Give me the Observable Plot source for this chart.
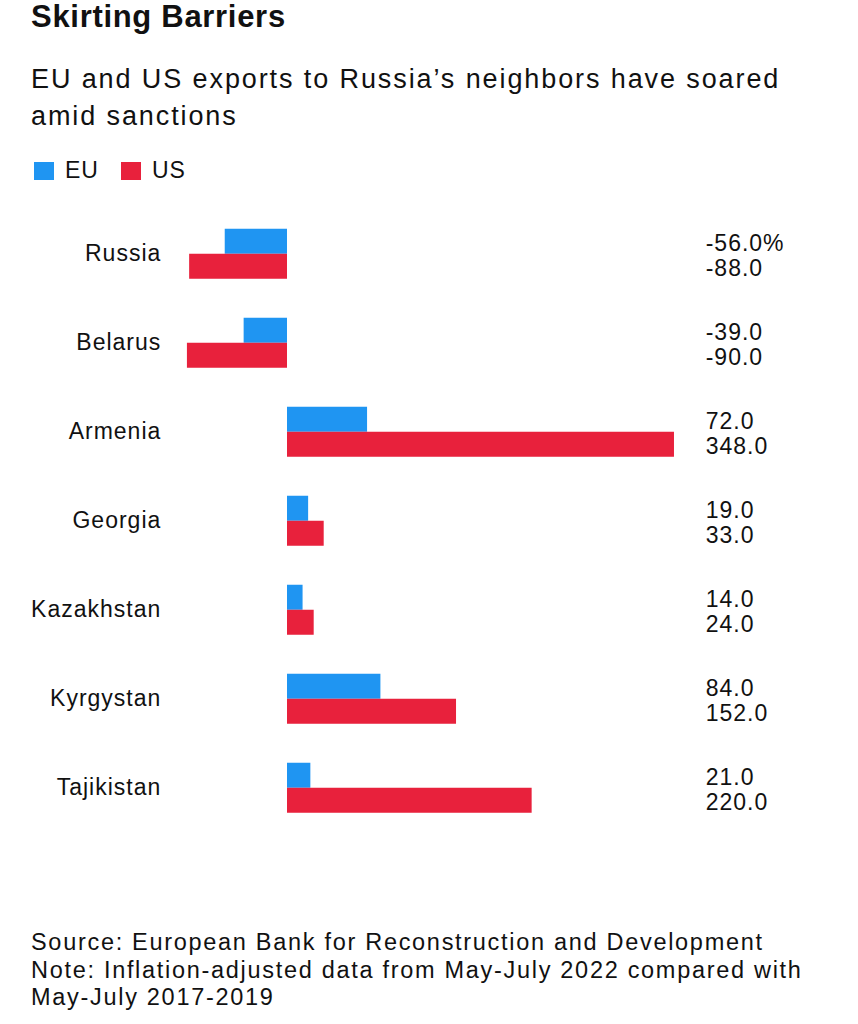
<!DOCTYPE html>
<html>
<head>
<meta charset="utf-8">
<script src="https://cdn.jsdelivr.net/npm/d3@7"></script>
<script src="https://cdn.jsdelivr.net/npm/@observablehq/plot@0.6"></script>
<style>
  html, body { margin: 0; padding: 0; background: #fff; }
  #wrap { position: relative; width: 858px; height: 1024px; font-family: "Liberation Sans", Arial, sans-serif; color: #111; overflow: hidden; }
  #chart { position: absolute; left: 0; top: 0; }
  .t { position: absolute; left: 31px; white-space: nowrap; }
  #title { top: -1px; font-size: 31px; font-weight: bold; letter-spacing: 0.7px; }
  #subtitle { top: 61px; font-size: 27px; line-height: 37px; letter-spacing: 1.9px; }
  #legend { top: 157px; left: 34px; font-size: 23px; letter-spacing: 1px; display: flex; align-items: center; }
  #legend .sw { width: 20px; height: 18px; display: inline-block; margin-right: 11px; }
  #legend .item { display: flex; align-items: center; margin-right: 22px; }
  #footer { top: 929px; font-size: 23.5px; line-height: 27.5px; letter-spacing: 1.7px; }
</style>
</head>
<body>
<div id="wrap">
  <div id="chart"></div>
  <div class="t" id="title">Skirting Barriers</div>
  <div class="t" id="subtitle">EU and US exports to Russia’s neighbors have soared<br>amid sanctions</div>
  <div class="t" id="legend"></div>
  <div class="t" id="footer">Source: European Bank for Reconstruction and Development<br>Note: Inflation-adjusted data from May-July 2022 compared with<br>May-July 2017-2019</div>
</div>
<script>
const countries = ["Russia", "Belarus", "Armenia", "Georgia", "Kazakhstan", "Kyrgystan", "Tajikistan"];
const euValues = [-56, -39, 72, 19, 14, 84, 21];
const usValues = [-88, -90, 348, 33, 24, 152, 220];
const seriesNames = ["EU", "US"];
const seriesColors = ["#1f95f2", "#e8213c"];

const fmt = d3.formatLocale({decimal: ".", thousands: ",", grouping: [3], currency: ["", ""], minus: "-"}).format(".1f");
const rows = [];
countries.forEach((c, i) => {
  rows.push({country: c, series: "EU", value: euValues[i], label: fmt(euValues[i]) + (i === 0 ? "%" : "")});
  rows.push({country: c, series: "US", value: usValues[i], label: fmt(usValues[i])});
});

const chart = Plot.plot({
  width: 858,
  height: 860,
  marginTop: 207.25,
  marginBottom: 26.25,
  marginLeft: 175.8,
  marginRight: 181.8,
  style: {background: "transparent", fontFamily: "Liberation Sans, Arial, sans-serif", letterSpacing: "1px"},
  x: {domain: [-100, 350], axis: null},
  fy: {domain: countries, padding: 0, label: null},
  y: {domain: seriesNames, paddingInner: 0, paddingOuter: 0.72, axis: null},
  color: {domain: seriesNames, range: seriesColors},
  marks: [
    Plot.axisFy({anchor: "left", tickSize: 0, tickPadding: 15, fontSize: 23, label: null, fill: "#111"}),
    Plot.barX(rows, {fy: "country", y: "series", x: "value", fill: "series", inset: 0}),
    Plot.text(rows, {fy: "country", y: "series", text: "label", frameAnchor: "right", textAnchor: "start", dx: 29, dy: 2, fontSize: 23, fill: "#111"})
  ]
});
document.getElementById("chart").appendChild(chart);

const legend = document.getElementById("legend");
seriesNames.forEach((s, i) => {
  const item = document.createElement("span");
  item.className = "item";
  item.innerHTML = `<span class="sw" style="background:${seriesColors[i]}"></span>${s}`;
  legend.appendChild(item);
});
</script>
</body>
</html>
